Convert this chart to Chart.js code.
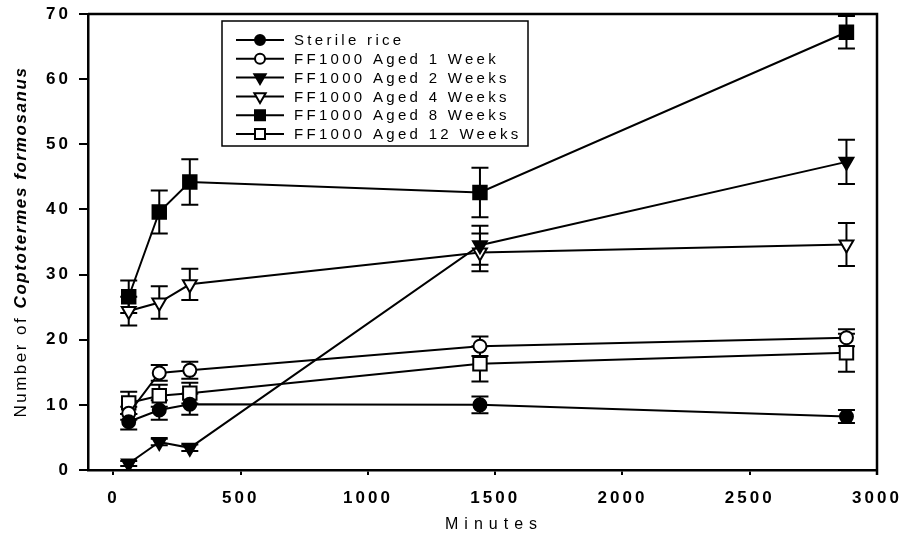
<!DOCTYPE html>
<html>
<head>
<meta charset="utf-8">
<script src="https://cdn.jsdelivr.net/npm/chart.js@4/dist/chart.umd.min.js"></script>
<style>
  html, body { margin: 0; padding: 0; background: #fff; }
  #wrap { width: 906px; height: 535px; }
</style>
</head>
<body>
<div id="wrap"><canvas id="myChart" width="906" height="535"></canvas></div>
<script>
// minutes after start
const minutes = [60, 180, 300, 1440, 2880];
const xTicks = [0, 500, 1000, 1500, 2000, 2500, 3000];
const yTicks = [0, 10, 20, 30, 40, 50, 60, 70];

const sterileRice = [7.4, 9.2, 10.1, 10.0, 8.2];
const sterileRiceErr = [1.2, 1.5, 1.6, 1.3, 1.0];
const aged1 = [8.7, 14.9, 15.3, 19.0, 20.3];
const aged1Err = [1.0, 1.2, 1.3, 1.5, 1.3];
const aged2 = [1.0, 4.3, 3.4, 34.5, 47.3];
const aged2Err = [0.4, 0.5, 0.5, 3.0, 3.4];
const aged4 = [24.4, 25.7, 28.5, 33.4, 34.6];
const aged4Err = [2.2, 2.5, 2.4, 2.9, 3.3];
const aged8 = [26.6, 39.6, 44.2, 42.6, 67.2];
const aged8Err = [2.5, 3.3, 3.5, 3.8, 2.5];
const aged12 = [10.3, 11.4, 11.8, 16.3, 18.0];
const aged12Err = [1.7, 1.7, 1.6, 2.7, 2.9];

const labels = ['Sterile rice', 'FF1000 Aged 1 Week', 'FF1000 Aged 2 Weeks',
  'FF1000 Aged 4 Weeks', 'FF1000 Aged 8 Weeks', 'FF1000 Aged 12 Weeks'];

const FONT = "'Liberation Sans', Arial, sans-serif";

function makeSet(label, values, errors, style, filled, radius, rotation) {
  return {
    label: label,
    data: values.map((v, i) => ({x: minutes[i], y: v})),
    errors: errors,
    borderColor: '#000',
    borderWidth: 2,
    pointStyle: style,
    rotation: rotation || 0,
    pointRadius: radius,
    pointHoverRadius: radius,
    pointBorderWidth: 2,
    pointBorderColor: '#000',
    pointBackgroundColor: filled ? '#000' : '#fff',
    showLine: true,
    tension: 0
  };
}

const datasets = [
  makeSet(labels[0], sterileRice, sterileRiceErr, 'circle', true, 6.5),
  makeSet(labels[1], aged1, aged1Err, 'circle', false, 6.5),
  makeSet(labels[2], aged2, aged2Err, 'triangle', true, 8, 180),
  makeSet(labels[3], aged4, aged4Err, 'triangle', false, 8, 180),
  makeSet(labels[4], aged8, aged8Err, 'rect', true, 9.5),
  makeSet(labels[5], aged12, aged12Err, 'rect', false, 9.5)
];

// error bars with caps, drawn under the markers
const errorBars = {
  id: 'errorBars',
  beforeDatasetsDraw(chart) {
    const ctx = chart.ctx;
    const x = chart.scales.x, y = chart.scales.y;
    ctx.save();
    ctx.strokeStyle = '#000';
    ctx.lineWidth = 2;
    chart.data.datasets.forEach(ds => {
      ds.data.forEach((p, i) => {
        const px = x.getPixelForValue(p.x);
        const top = y.getPixelForValue(p.y + ds.errors[i]);
        const bot = y.getPixelForValue(Math.max(0, p.y - ds.errors[i]));
        ctx.beginPath();
        ctx.moveTo(px, top); ctx.lineTo(px, bot);
        ctx.moveTo(px - 8.5, top); ctx.lineTo(px + 8.5, top);
        ctx.moveTo(px - 8.5, bot); ctx.lineTo(px + 8.5, bot);
        ctx.stroke();
      });
    });
    ctx.restore();
  }
};

function marker(ctx, style, filled, cx, cy, r) {
  ctx.beginPath();
  if (style === 'circle') {
    ctx.arc(cx, cy, r, 0, Math.PI * 2);
  } else if (style === 'triangle') {
    ctx.moveTo(cx - r * 0.87, cy - r * 0.5);
    ctx.lineTo(cx + r * 0.87, cy - r * 0.5);
    ctx.lineTo(cx, cy + r);
    ctx.closePath();
  } else {
    ctx.rect(cx - r, cy - r, 2 * r, 2 * r);
  }
  ctx.fillStyle = filled ? '#000' : '#fff';
  ctx.fill();
  ctx.stroke();
}

// frame, legend box and axis titles
const extras = {
  id: 'extras',
  beforeDraw(chart) {
    chart.ctx.letterSpacing = '3px';
  },
  afterDraw(chart) {
    const ctx = chart.ctx;
    const a = chart.chartArea;
    ctx.save();
    ctx.strokeStyle = '#000';
    ctx.lineWidth = 2.5;
    ctx.beginPath();
    ctx.moveTo(a.left, a.top);
    ctx.lineTo(a.right, a.top);
    ctx.lineTo(a.right, a.bottom + 5);
    ctx.stroke();

    // legend
    ctx.lineWidth = 1.5;
    ctx.strokeRect(222, 21, 306, 125);
    ctx.font = '15px ' + FONT;
    ctx.letterSpacing = '3.3px';
    ctx.textBaseline = 'middle';
    ctx.textAlign = 'left';
    chart.data.datasets.forEach((ds, i) => {
      const yy = 40 + i * 18.8;
      ctx.lineWidth = 2;
      ctx.beginPath();
      ctx.moveTo(236, yy); ctx.lineTo(284, yy);
      ctx.stroke();
      const filled = ds.pointBackgroundColor === '#000';
      const r = ds.pointStyle === 'circle' ? 5 : (ds.pointStyle === 'triangle' ? 6.5 : 5);
      marker(ctx, ds.pointStyle, filled, 260, yy, r);
      ctx.fillStyle = '#000';
      ctx.fillText(ds.label, 294, yy + 1);
    });

    // x title
    ctx.font = '16px ' + FONT;
    ctx.letterSpacing = '6px';
    ctx.fillText('Minutes', 445, 525);

    // y title, mixed roman / italic
    ctx.translate(21, 242);
    ctx.rotate(-Math.PI / 2);
    const part1 = 'Number of ';
    const part2 = 'Coptotermes formosanus';
    ctx.font = '17px ' + FONT;
    ctx.letterSpacing = '2.5px';
    const w1 = ctx.measureText(part1).width;
    ctx.font = 'italic bold 17px ' + FONT;
    ctx.letterSpacing = '1.6px';
    const w2 = ctx.measureText(part2).width;
    const sx = -(w1 + w2) / 2;
    ctx.font = '17px ' + FONT;
    ctx.letterSpacing = '2.5px';
    ctx.fillText(part1, sx, 0);
    ctx.font = 'italic bold 17px ' + FONT;
    ctx.letterSpacing = '1.6px';
    ctx.fillText(part2, sx + w1, 0);
    ctx.restore();
  }
};

const ctx = document.getElementById('myChart').getContext('2d');
const myChart = new Chart(ctx, {
  type: 'scatter',
  data: {datasets: datasets},
  options: {
    responsive: false,
    animation: false,
    devicePixelRatio: 1,
    layout: {padding: {top: 14, right: 29, left: 0, bottom: 0}},
    plugins: {legend: {display: false}, tooltip: {enabled: false}},
    scales: {
      x: {
        type: 'linear',
        min: -100,
        max: 3000,
        afterFit: s => { s.height = 65; s.paddingLeft = 0; s.paddingRight = 0; },
        afterBuildTicks: s => { s.ticks = xTicks.map(v => ({value: v})); },
        border: {display: true, color: '#000', width: 2.5},
        grid: {display: true, drawOnChartArea: false, drawTicks: true, tickLength: 5, color: '#000', lineWidth: 2},
        ticks: {color: '#000', padding: 13, maxRotation: 0, autoSkip: false,
          callback: v => String(v),
          font: {family: FONT, size: 17, weight: 'bold'}}
      },
      y: {
        min: 0,
        max: 70,
        afterFit: s => { s.width = 88; s.paddingTop = 0; s.paddingBottom = 0; },
        afterBuildTicks: s => { s.ticks = yTicks.map(v => ({value: v})); },
        border: {display: true, color: '#000', width: 2.5},
        grid: {display: true, drawOnChartArea: false, drawTicks: true, tickLength: 9, color: '#000', lineWidth: 2},
        ticks: {color: '#000', padding: 8, autoSkip: false,
          callback: v => String(v),
          font: {family: FONT, size: 17, weight: 'bold'}}
      }
    }
  },
  plugins: [errorBars, extras]
});
</script>
</body>
</html>
